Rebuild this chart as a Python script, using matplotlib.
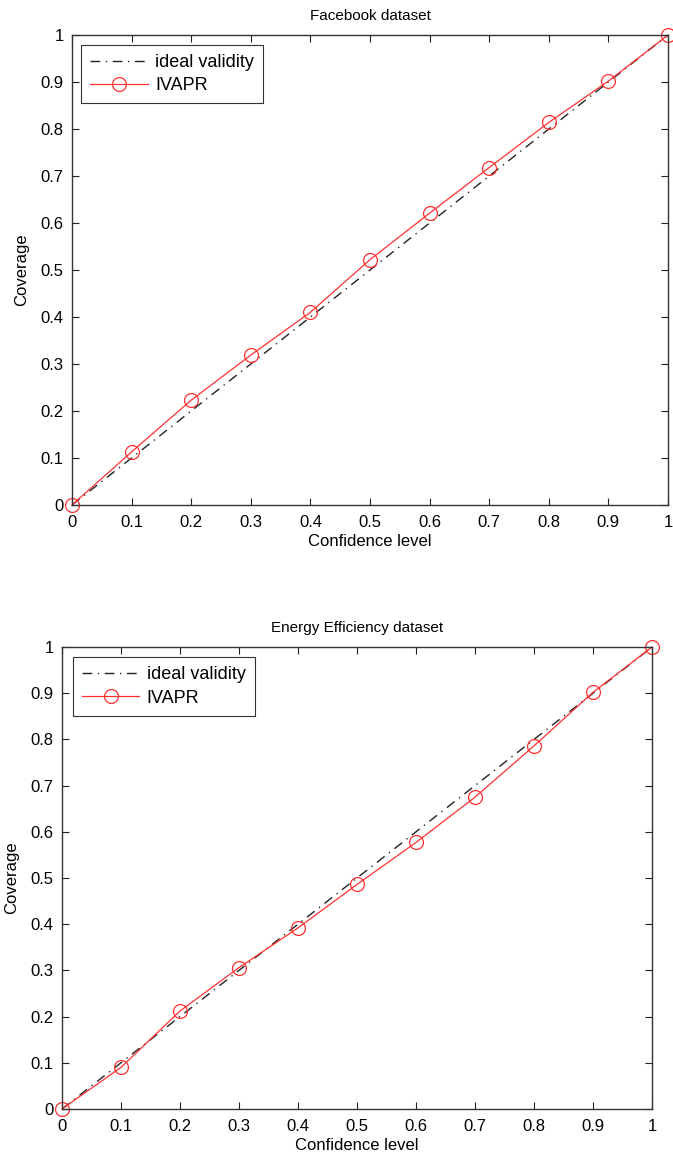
import numpy as np
import matplotlib
matplotlib.use('Agg')
import matplotlib.pyplot as plt

plt.rcParams['font.family'] = ['Liberation Sans', 'DejaVu Sans']

# confidence levels (x) shared by both panels
conf = [0.0, 0.1, 0.2, 0.3, 0.4, 0.5, 0.6, 0.7, 0.8, 0.9, 1.0]
ideal = [0.0, 0.1, 0.2, 0.3, 0.4, 0.5, 0.6, 0.7, 0.8, 0.9, 1.0]

fb_cov = [0.0, 0.113, 0.223, 0.319, 0.41, 0.522, 0.621, 0.718, 0.814, 0.902, 1.0]
ee_cov = [0.0, 0.09, 0.212, 0.306, 0.392, 0.486, 0.577, 0.675, 0.786, 0.902, 1.0]

titles = ['Facebook dataset', 'Energy Efficiency dataset']
covs = [fb_cov, ee_cov]
ticks = [0, 0.1, 0.2, 0.3, 0.4, 0.5, 0.6, 0.7, 0.8, 0.9, 1]
tick_labels = ['0', '0.1', '0.2', '0.3', '0.4', '0.5', '0.6', '0.7', '0.8', '0.9', '1']

fig = plt.figure(figsize=(6.73, 11.6), dpi=100)
# axes boxes in figure fractions [left, bottom, width, height]
boxes = [[0.107, 0.5647, 0.8856, 0.4051],
         [0.0921, 0.0440, 0.8767, 0.3982]]
leg_anchor = [(0.015, 0.979), (0.018, 0.978)]

for box, title, cov, anc in zip(boxes, titles, covs, leg_anchor):
    ax = fig.add_axes(box)
    ax.plot(conf, ideal, color='#222222', linestyle=(0, (7, 4, 1, 4)), linewidth=1.0,
            label='ideal validity')
    ax.plot(conf, cov, color='#ff3030', linewidth=0.9, marker='o', markersize=10,
            markerfacecolor='none', markeredgecolor='#ff3030', markeredgewidth=0.9,
            label='IVAPR', clip_on=False)
    ax.set_xlim(0, 1)
    ax.set_ylim(0, 1)
    ax.set_xticks(ticks)
    ax.set_xticklabels(tick_labels)
    ax.set_yticks(ticks)
    ax.set_yticklabels(tick_labels)
    ax.tick_params(direction='in', top=True, right=True, length=5, width=0.8,
                   labelsize=12, colors='#222222', labelcolor='black')
    ax.tick_params(axis='x', pad=7)
    ax.tick_params(axis='y', pad=6)
    for s in ax.spines.values():
        s.set_linewidth(1.0)
        s.set_color('#333333')
    ax.set_title(title, fontsize=11, pad=11)
    ax.set_xlabel('Confidence level', fontsize=12, labelpad=3)
    ax.set_ylabel('Coverage', fontsize=12, labelpad=8)
    leg = ax.legend(loc='upper left', fontsize=13, fancybox=False, framealpha=1,
                    edgecolor='#333333', borderpad=0.5, handlelength=3.2,
                    handletextpad=0.4, labelspacing=0.35, borderaxespad=0,
                    bbox_to_anchor=anc)
    leg.get_frame().set_linewidth(0.8)

fig.savefig('out.png', dpi=100)
